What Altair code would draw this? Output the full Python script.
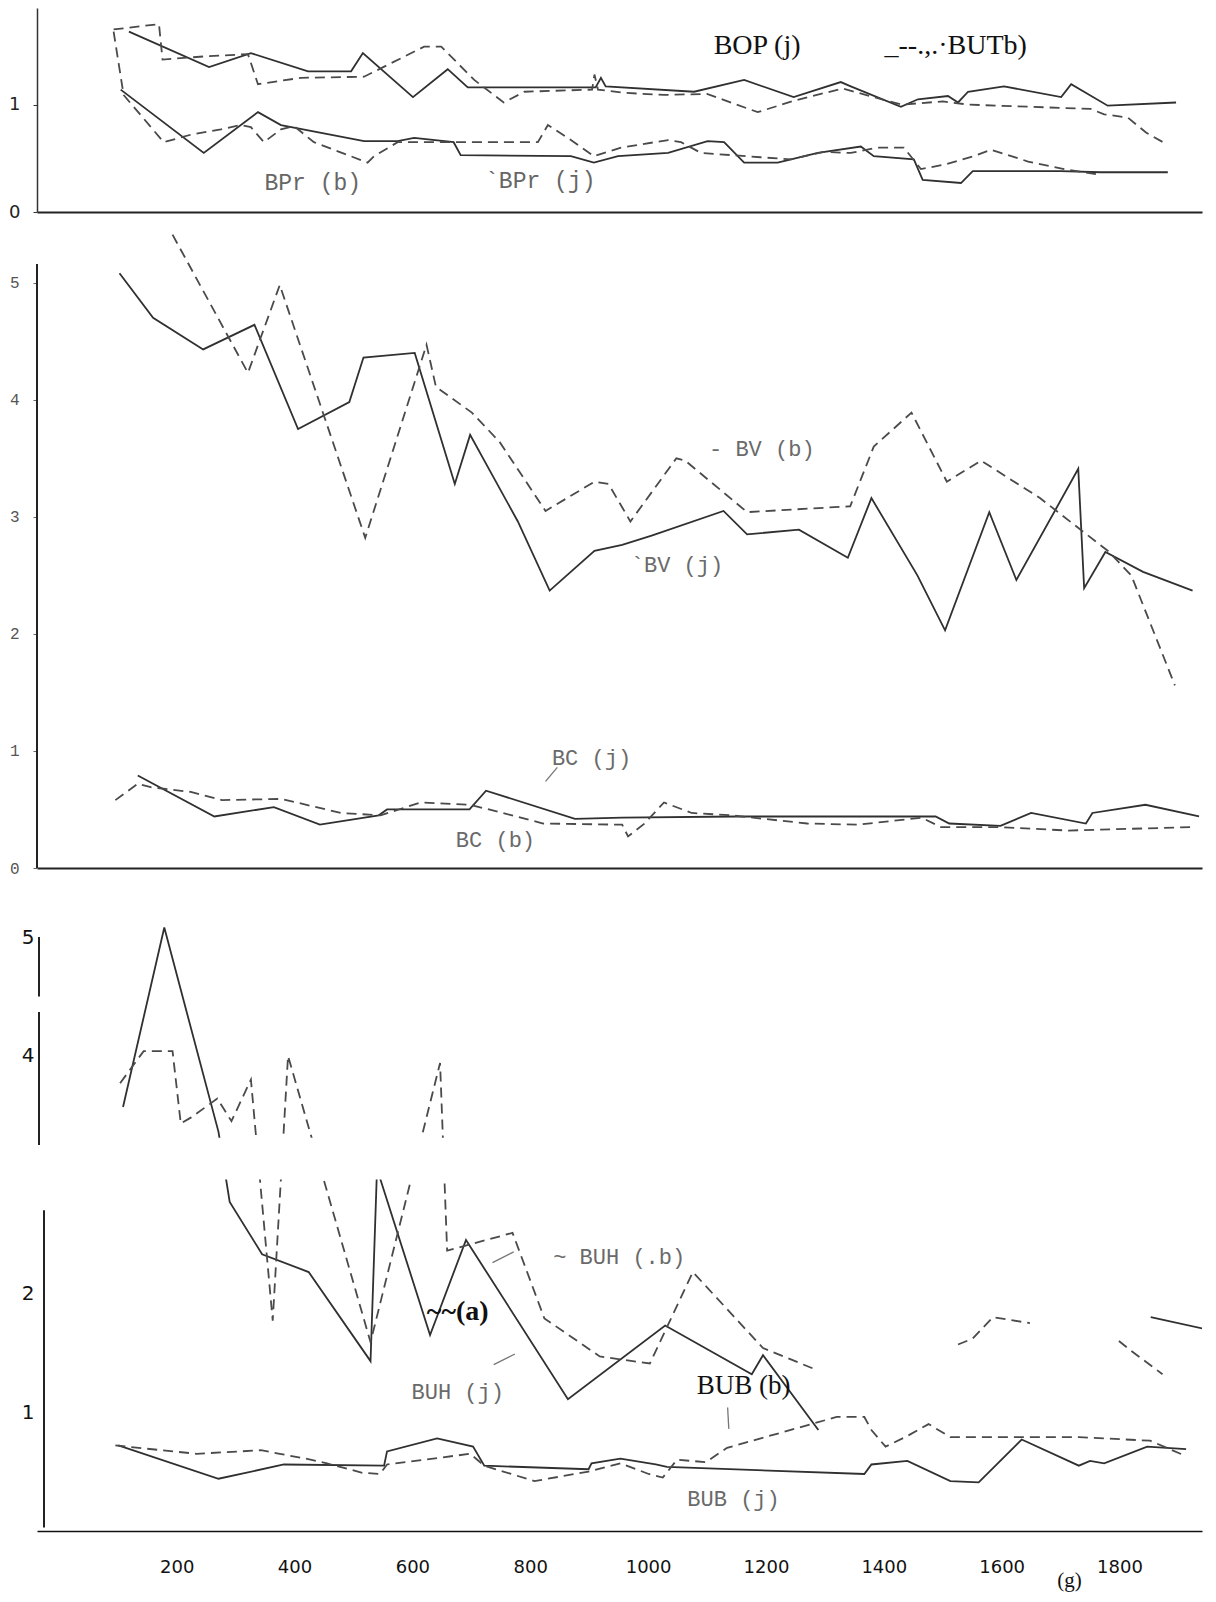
import altair as alt
import pandas as pd

# ---------------- shared x (weight, g) ----------------
X_DOMAIN = [-37, 1940]
X_TICKS = [200, 400, 600, 800, 1000, 1200, 1400, 1600, 1800]

# ---------------- panel 1 : BOP / BPr ----------------
BOP_J_X = [119, 255, 326, 423, 496, 516, 601, 660, 694, 911, 920, 928, 1078, 1163, 1247, 1327, 1344,
           1429, 1458, 1509, 1526, 1543, 1604, 1701, 1718, 1780, 1896]
BOP_J_Y = [1.68, 1.35, 1.48, 1.31, 1.31, 1.48, 1.07, 1.33, 1.16, 1.16, 1.25, 1.17, 1.12, 1.23, 1.07, 1.21, 1.17,
           0.98, 1.05, 1.08, 1.02, 1.12, 1.17, 1.07, 1.19, 0.99, 1.02]
BOP_B_X = [93, 170, 176, 249, 321, 338, 411, 518, 620, 649, 705, 755, 790, 905, 909, 915, 959, 1027, 1100,
           1186, 1250, 1330, 1430, 1500, 1544, 1751, 1774, 1814, 1845, 1874]
BOP_B_Y = [1.70, 1.75, 1.42, 1.45, 1.47, 1.19, 1.25, 1.26, 1.54, 1.54, 1.23, 1.02, 1.12, 1.14, 1.28, 1.14, 1.11, 1.09, 1.10,
           0.93, 1.04, 1.15, 1.00, 1.03, 1.00, 0.96, 0.91, 0.88, 0.74, 0.65]
BPR_J_X = [105, 246, 338, 377, 518, 575, 603, 670, 682, 869, 908, 949, 1034, 1101, 1129, 1163, 1220, 1288,
           1361, 1383, 1451, 1466, 1531, 1551, 1701, 1768, 1882]
BPR_J_Y = [1.14, 0.55, 0.93, 0.81, 0.66, 0.66, 0.69, 0.65, 0.53, 0.52, 0.46, 0.52, 0.55, 0.66, 0.65, 0.46, 0.46, 0.55,
           0.61, 0.52, 0.49, 0.30, 0.27, 0.38, 0.38, 0.37, 0.37]
BPR_B_X = [93, 110, 178, 224, 275, 309, 326, 348, 377, 399, 433, 524, 535, 575, 670, 813, 830, 869, 908, 954,
           1034, 1056, 1090, 1191, 1242, 1298, 1344, 1390, 1434, 1463, 1502, 1553, 1582, 1645, 1706, 1763]
BPR_B_Y = [1.68, 1.09, 0.65, 0.72, 0.77, 0.81, 0.79, 0.65, 0.77, 0.80, 0.65, 0.46, 0.52, 0.65, 0.65, 0.65, 0.81, 0.67, 0.52, 0.60,
           0.67, 0.65, 0.55, 0.51, 0.49, 0.56, 0.55, 0.60, 0.60, 0.40, 0.44, 0.52, 0.58, 0.47, 0.40, 0.35]

# ---------------- panel 2 : BV / BC ----------------
BV_J_X = [103, 160, 245, 332, 406, 493, 517, 604, 672, 698, 779, 833, 909, 956, 1006, 1128, 1168, 1256, 1339,
          1379, 1457, 1504, 1579, 1625, 1730, 1740, 1776, 1840, 1924]
BV_J_Y = [5.08, 4.70, 4.43, 4.64, 3.75, 3.98, 4.36, 4.40, 3.28, 3.70, 2.96, 2.37, 2.71, 2.76, 2.84, 3.05, 2.85, 2.89, 2.65,
          3.16, 2.50, 2.03, 3.04, 2.46, 3.41, 2.39, 2.70, 2.53, 2.37]
BV_B_X = [193, 321, 375, 520, 624, 640, 701, 748, 826, 909, 933, 970, 1048, 1063, 1168, 1343, 1383, 1447, 1507,
          1565, 1665, 1780, 1820, 1894]
BV_B_Y = [5.41, 4.23, 4.98, 2.82, 4.47, 4.11, 3.89, 3.64, 3.05, 3.30, 3.28, 2.96, 3.50, 3.48, 3.04, 3.09, 3.60, 3.89, 3.30,
          3.48, 3.16, 2.71, 2.50, 1.56]
BC_J_X = [134, 264, 365, 443, 543, 557, 697, 725, 876, 956, 1149, 1488, 1511, 1598, 1650, 1743, 1754, 1844, 1935]
BC_J_Y = [0.79, 0.44, 0.52, 0.37, 0.45, 0.50, 0.50, 0.66, 0.42, 0.43, 0.44, 0.44, 0.38, 0.36, 0.47, 0.38, 0.47, 0.54, 0.44]
BC_B_X = [96, 134, 156, 224, 277, 378, 479, 546, 614, 697, 722, 822, 956, 966, 994, 1027, 1074, 1141, 1270, 1357,
          1464, 1497, 1593, 1712, 1927]
BC_B_Y = [0.58, 0.72, 0.69, 0.65, 0.58, 0.59, 0.47, 0.45, 0.56, 0.54, 0.51, 0.38, 0.37, 0.27, 0.38, 0.56, 0.47, 0.45, 0.38, 0.37,
          0.43, 0.35, 0.35, 0.32, 0.35]

# ---------------- panel 3 : BUH / BUB ----------------
BUH_J_X = [109, 179, 271, 290, 345, 424, 529, 540, 630, 691, 864, 1029, 1176, 1195, 1289]
BUH_J_Y = [3.57, 5.08, 3.36, 2.77, 2.33, 2.18, 1.43, 3.05, 1.65, 2.45, 1.11, 1.73, 1.32, 1.48, 0.85]
BUH_J_TAIL_X = [1853, 1964]
BUH_J_TAIL_Y = [1.80, 1.68]
BUH_B_X = [104, 144, 193, 207, 224, 269, 293, 326, 363, 389, 529, 647, 659, 770, 824, 918, 1003, 1076, 1195, 1284]
BUH_B_Y = [3.77, 4.04, 4.04, 3.43, 3.48, 3.64, 3.45, 3.80, 1.77, 4.00, 1.59, 3.94, 2.36, 2.51, 1.79, 1.47, 1.41, 2.18, 1.54, 1.36]
BUH_B_TAIL1_X = [1526, 1551, 1585, 1648]
BUH_B_TAIL1_Y = [1.57, 1.62, 1.80, 1.75]
BUH_B_TAIL2_X = [1799, 1819, 1873]
BUH_B_TAIL2_Y = [1.60, 1.52, 1.32]
BUB_J_X = [101, 271, 382, 552, 557, 642, 703, 722, 899, 904, 953, 1013, 1032, 1367, 1379, 1440, 1513, 1561,
           1634, 1731, 1750, 1774, 1847, 1913]
BUB_J_Y = [0.72, 0.44, 0.56, 0.55, 0.67, 0.78, 0.71, 0.55, 0.52, 0.57, 0.61, 0.56, 0.54, 0.48, 0.56, 0.59, 0.42, 0.41,
           0.77, 0.55, 0.59, 0.57, 0.71, 0.69]
BUB_B_X = [96, 234, 343, 375, 418, 455, 515, 545, 557, 698, 722, 807, 899, 953, 1001, 1025, 1049, 1098, 1134,
           1320, 1367, 1379, 1403, 1440, 1476, 1513, 1731, 1852, 1913]
BUB_B_Y = [0.72, 0.65, 0.68, 0.65, 0.61, 0.57, 0.49, 0.48, 0.56, 0.65, 0.55, 0.42, 0.50, 0.57, 0.48, 0.45, 0.60, 0.58, 0.70,
           0.96, 0.96, 0.85, 0.71, 0.80, 0.90, 0.79, 0.79, 0.76, 0.63]

# ---------------- annotations (text, x, y) ----------------
P1_SERIF = [("BOP (j)", 1185, 1.55), ("_--.,.·BUTb)", 1522, 1.55)]
P1_MONO = [("BPr (b)", 431, 0.27), ("`BPr (j)", 817, 0.29)]
P2_MONO = [("- BV (b)", 1193, 3.58), ("`BV (j)", 1049, 2.59), ("BC (j)", 904, 0.94), ("BC (b)", 741, 0.24)]
P2_LEADERS = [(826, 0.74, 846, 0.86)]
P3_MONO = [("BUH (j)", 677, 1.17), ("~ BUH (.b)", 951, 2.31), ("BUB (j)", 1145, 0.27)]
P3_SERIF = [("BUB (b)", 1162, 1.22)]
P3_BOLD = [("~~(a)", 677, 1.84)]
P3_LEADERS = [(738, 1.40, 774, 1.49), (736, 2.26, 772, 2.35), (1135, 1.04, 1137, 0.86)]
P3_GAP = (2.96, 3.31)
P3_AXIS_UPPER = [(4.50, 5.00), (3.25, 4.37)]
P3_AXIS_LOWER = [(0.03, 2.70)]

SOLID = "#303030"
DASHC = "#4a4a4a"
W = 1165


def make_df(series):
    rows = []
    for key, xs, ys, style in series:
        for i, (a, b) in enumerate(zip(xs, ys)):
            rows.append({"x": a, "y": b, "key": key, "style": style, "i": i})
    return pd.DataFrame(rows)


def panel(series, ydom, height, xaxis, yaxis, texts, leaders=None, rects=None, axis_rules=None):
    df = make_df(series)
    X = alt.X("x:Q", scale=alt.Scale(domain=X_DOMAIN, nice=False, zero=False), axis=xaxis)
    Y = alt.Y("y:Q", scale=alt.Scale(domain=ydom, nice=False, zero=False), axis=yaxis)
    layers = []
    layers.append(
        alt.Chart(df[df["style"] == "solid"]).mark_line(stroke=SOLID, strokeWidth=1.8, clip=True)
        .encode(x=X, y=Y, detail="key:N", order="i:Q")
    )
    layers.append(
        alt.Chart(df[df["style"] == "dashed"]).mark_line(stroke=DASHC, strokeWidth=1.8, strokeDash=[10, 6], clip=True)
        .encode(x=X, y=Y, detail="key:N", order="i:Q")
    )
    if rects:
        rdf = pd.DataFrame([{"y": a, "y2": b} for a, b in rects])
        layers.append(alt.Chart(rdf).mark_rect(color="white").encode(
            x=alt.value(-3), x2=alt.value(W + 3), y=Y, y2="y2:Q"))
    if axis_rules:
        for px, segs in axis_rules:
            adf = pd.DataFrame([{"y": a, "y2": b} for a, b in segs])
            layers.append(alt.Chart(adf).mark_rule(color="#222", strokeWidth=2).encode(
                x=alt.value(px), y=Y, y2="y2:Q"))
    if leaders:
        ldf = pd.DataFrame([{"x": a, "y": b, "x2": c, "y2": d} for a, b, c, d in leaders])
        layers.append(alt.Chart(ldf).mark_rule(color="#777", strokeWidth=1.3).encode(
            x=X, y=Y, x2="x2:Q", y2="y2:Q"))
    for items, font, size, color, weight in texts:
        tdf = pd.DataFrame([{"x": a, "y": b, "t": t} for t, a, b in items])
        layers.append(alt.Chart(tdf).mark_text(font=font, fontSize=size, color=color, fontWeight=weight,
                                               align="center", baseline="middle")
                      .encode(x=X, y=Y, text="t:N"))
    return alt.layer(*layers).properties(width=W, height=height)


hidden_x = alt.Axis(labels=False, ticks=False, title=None, grid=False, domainColor="#222", domainWidth=2)

p1 = panel(
    [("BOP(j)", BOP_J_X, BOP_J_Y, "solid"), ("BOP(b)", BOP_B_X, BOP_B_Y, "dashed"),
     ("BPr(j)", BPR_J_X, BPR_J_Y, "solid"), ("BPr(b)", BPR_B_X, BPR_B_Y, "dashed")],
    [0, 1.9], 204, hidden_x,
    alt.Axis(values=[0, 1], format="d", title=None, grid=False, tickSize=4, labelPadding=13,
             labelFont="DejaVu Sans", labelFontSize=18, labelColor="#222", domainColor="#333",
             domainWidth=1.5, tickColor="#333", minExtent=0, maxExtent=80),
    [(P1_SERIF, "Liberation Serif", 28, "#111", "normal"),
     (P1_MONO, "Liberation Mono", 23, "#666", "normal")],
)

p2 = panel(
    [("BV(j)", BV_J_X, BV_J_Y, "solid"), ("BV(b)", BV_B_X, BV_B_Y, "dashed"),
     ("BC(j)", BC_J_X, BC_J_Y, "solid"), ("BC(b)", BC_B_X, BC_B_Y, "dashed")],
    [0, 5.45], 638, hidden_x,
    alt.Axis(values=[0, 1, 2, 3, 4, 5], format="d", title=None, grid=False, domain=False, tickSize=4,
             labelPadding=14, labelFont="Liberation Mono", labelFontSize=16, labelColor="#555",
             tickColor="#666", minExtent=0, maxExtent=80),
    [(P2_MONO, "Liberation Mono", 22, "#6a6a6a", "normal")],
    leaders=P2_LEADERS,
    axis_rules=[(0, [(0, 5.16)])],
)

p3 = panel(
    [("BUH(j)", BUH_J_X, BUH_J_Y, "solid"), ("BUH(j)t", BUH_J_TAIL_X, BUH_J_TAIL_Y, "solid"),
     ("BUH(b)", BUH_B_X, BUH_B_Y, "dashed"), ("BUH(b)t1", BUH_B_TAIL1_X, BUH_B_TAIL1_Y, "dashed"),
     ("BUH(b)t2", BUH_B_TAIL2_X, BUH_B_TAIL2_Y, "dashed"),
     ("BUB(j)", BUB_J_X, BUB_J_Y, "solid"), ("BUB(b)", BUB_B_X, BUB_B_Y, "dashed")],
    [0, 5.43], 645,
    alt.Axis(values=X_TICKS, format="d", title="(g)", grid=False, ticks=False, tickSize=0, labelPadding=27,
             labelFont="DejaVu Sans", labelFontSize=18, labelColor="#111", labelFlush=False,
             domainColor="#111", domainWidth=1.5, titleX=1032, titleY=49, titleBaseline="middle",
             titleAlign="center", titleFont="Liberation Serif", titleFontSize=21, titleFontWeight="normal",
             titleColor="#111"),
    alt.Axis(values=[1, 2, 4, 5], format="d", title=None, grid=False, domain=False, ticks=False, tickSize=0,
             labelPadding=3, labelFont="DejaVu Sans", labelFontSize=20, labelColor="#111",
             minExtent=0, maxExtent=80),
    [(P3_MONO, "Liberation Mono", 22, "#6a6a6a", "normal"),
     (P3_SERIF, "Liberation Serif", 27, "#111", "normal"),
     (P3_BOLD, "Liberation Serif", 28, "#111", "bold")],
    leaders=P3_LEADERS,
    rects=[P3_GAP],
    axis_rules=[(2, P3_AXIS_UPPER), (7, P3_AXIS_LOWER)],
)

chart = (
    alt.vconcat(p1, p2, p3, spacing=18, bounds="flush")
    .properties(padding={"left": 0, "top": 0, "right": 0, "bottom": 4})
    .configure_view(stroke=None)
)

chart.save("out.html", embed_options={"renderer": "svg", "actions": False})
